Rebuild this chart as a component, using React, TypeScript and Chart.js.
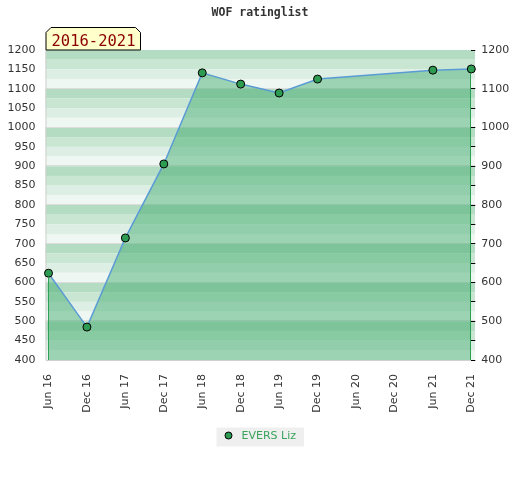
import React, { useEffect, useRef } from 'react';
import { Chart, registerables } from 'chart.js';

Chart.register(...registerables);

const TITLE = 'WOF ratinglist';
const PERIOD = '2016-2021';
const SERIES_NAME = 'EVERS Liz';
const CATEGORIES = ['Jun 16', 'Dec 16', 'Jun 17', 'Dec 17', 'Jun 18', 'Dec 18', 'Jun 19', 'Dec 19', 'Jun 20', 'Dec 20', 'Jun 21', 'Dec 21'];
const RATINGS: (number | null)[] = [624, 485, 715, 906, 1141, 1112, 1089, 1125, null, null, 1148, 1151];
const Y_MIN = 400;
const Y_MAX = 1200;
const BAND_STEP = 25;
const BAND_COLORS = ['#b3dcc2', '#c8e6d2', '#ddefe4', '#eef7f1'];

const TICK_FONT = { family: '"DejaVu Sans", sans-serif', size: 11 };
const TICK_COLOR = '#333333';
const LINE_COLOR = '#5b9bd5';
const POINT_COLOR = '#2e9b53';
const FILL_COLOR = 'rgba(63,171,108,0.47)';
const EDGE_COLOR = '#2ea055';
const LEGEND_TEXT = '#3aa35b';

const bandsPlugin = {
  id: 'bands',
  beforeDraw(chart: any) {
    const { ctx, chartArea: ca, scales } = chart;
    const y = scales.y;
    const L = ca.left - 3;
    const R = ca.right + 3.7;
    ctx.save();
    let i = 0;
    for (let v = Y_MAX; v > Y_MIN; v -= BAND_STEP, i++) {
      const top = y.getPixelForValue(v);
      const bot = y.getPixelForValue(v - BAND_STEP);
      ctx.fillStyle = BAND_COLORS[i % BAND_COLORS.length];
      ctx.fillRect(L, top, R - L, bot - top);
    }
    ctx.strokeStyle = '#dcdcdc';
    ctx.lineWidth = 1;
    for (let v = Y_MAX - 100; v > Y_MIN; v -= 100) {
      const py = Math.round(y.getPixelForValue(v)) - 0.5;
      ctx.beginPath();
      ctx.moveTo(L, py);
      ctx.lineTo(R, py);
      ctx.stroke();
    }
    ctx.strokeStyle = '#d0d0d0';
    ctx.beginPath();
    ctx.moveTo(L + 0.5, ca.top);
    ctx.lineTo(L + 0.5, ca.bottom + 0.5);
    ctx.lineTo(R, ca.bottom + 0.5);
    ctx.stroke();

    // title
    ctx.fillStyle = '#333333';
    ctx.font = 'bold 11.5px "DejaVu Sans Mono", monospace';
    ctx.textAlign = 'center';
    ctx.textBaseline = 'middle';
    ctx.fillText(TITLE, chart.width / 2, 13.5);

    // period box
    const bx = L + 0.5;
    const by = 27.5;
    const bw = 94.5;
    const bh = ca.top - by;
    const c = 5;
    ctx.beginPath();
    ctx.moveTo(bx, ca.top);
    ctx.lineTo(bx, by + c);
    ctx.lineTo(bx + c, by);
    ctx.lineTo(bx + bw - c, by);
    ctx.lineTo(bx + bw, by + c);
    ctx.lineTo(bx + bw, by + bh);
    ctx.closePath();
    ctx.fillStyle = '#ffffcc';
    ctx.fill();
    ctx.strokeStyle = '#000000';
    ctx.lineWidth = 1;
    ctx.stroke();
    ctx.fillStyle = '#8b0000';
    ctx.font = '15.5px "DejaVu Sans Mono", monospace';
    ctx.textAlign = 'left';
    ctx.textBaseline = 'alphabetic';
    ctx.fillText(PERIOD, bx + 5.5, 45.5);
    ctx.restore();
  },
  afterDatasetsDraw(chart: any) {
    const { ctx, chartArea: ca } = chart;
    const meta = chart.getDatasetMeta(0);
    const data = chart.data.datasets[0].data;
    let first = -1;
    let last = -1;
    data.forEach((v: any, i: number) => {
      if (v !== null && v !== undefined) {
        if (first < 0) first = i;
        last = i;
      }
    });
    ctx.save();
    ctx.strokeStyle = EDGE_COLOR;
    ctx.lineWidth = 1;
    [first, last].forEach((idx) => {
      const p = meta.data[idx];
      if (!p) return;
      const x = Math.round(p.x) - 0.5;
      ctx.beginPath();
      ctx.moveTo(x, p.y + 4);
      ctx.lineTo(x, ca.bottom);
      ctx.stroke();
    });
    ctx.restore();
  },
  afterDraw(chart: any) {
    const { ctx } = chart;
    ctx.save();
    ctx.font = '11px "DejaVu Sans", sans-serif';
    const tw = ctx.measureText(SERIES_NAME).width;
    const w = tw + 33;
    const h = 19;
    const x0 = Math.round(chart.width / 2 - w / 2) + 0.5;
    const y0 = 427.5;
    ctx.fillStyle = '#efefef';
    ctx.fillRect(x0, y0, w, h);
    ctx.beginPath();
    ctx.arc(x0 + 12, y0 + h / 2 - 1.5, 3.5, 0, Math.PI * 2);
    ctx.fillStyle = POINT_COLOR;
    ctx.fill();
    ctx.strokeStyle = '#000';
    ctx.lineWidth = 1;
    ctx.stroke();
    ctx.fillStyle = LEGEND_TEXT;
    ctx.textAlign = 'left';
    ctx.textBaseline = 'middle';
    ctx.fillText(SERIES_NAME, x0 + 25, y0 + h / 2 - 1);
    ctx.restore();
  },
};

export default function App() {
  const ref = useRef<HTMLCanvasElement | null>(null);
  useEffect(() => {
    document.body.style.margin = '0';
    if (!ref.current) return;
    const chart = new Chart(ref.current, {
      type: 'line',
      data: {
        labels: CATEGORIES,
        datasets: [
          {
            label: SERIES_NAME,
            data: RATINGS,
            borderColor: LINE_COLOR,
            borderWidth: 1.5,
            backgroundColor: FILL_COLOR,
            fill: 'start',
            tension: 0,
            spanGaps: true,
            pointRadius: 4,
            pointBackgroundColor: POINT_COLOR,
            pointBorderColor: '#000000',
            pointBorderWidth: 1,
            yAxisID: 'y',
          },
        ],
      },
      options: {
        responsive: false,
        animation: false,
        devicePixelRatio: 1,
        layout: { padding: { top: 50, left: 0, right: 0, bottom: 0 } },
        plugins: {
          legend: { display: false },
          title: { display: false },
          tooltip: { enabled: false },
        },
        scales: {
          x: {
            grid: { display: false },
            border: { display: false },
            ticks: {
              autoSkip: false,
              minRotation: 90,
              maxRotation: 90,
              padding: 6,
              font: TICK_FONT,
              color: TICK_COLOR,
            },
            afterFit: (s: any) => {
              s.height = 120;
            },
          },
          y: {
            position: 'left',
            min: Y_MIN,
            max: Y_MAX,
            grid: { display: false },
            border: { display: false },
            ticks: {
              stepSize: 50,
              padding: 5,
              font: TICK_FONT,
              color: TICK_COLOR,
              callback: (v: any) => String(v),
            },
            afterFit: (s: any) => {
              s.width = 48.5;
            },
          },
          y1: {
            position: 'right',
            min: Y_MIN,
            max: Y_MAX,
            grid: { drawOnChartArea: false, drawTicks: true, tickLength: 4, tickColor: '#000000', color: '#000000' },
            border: { display: false },
            ticks: {
              stepSize: 50,
              padding: 6,
              font: TICK_FONT,
              color: TICK_COLOR,
              callback: (v: any) => (Number(v) % 100 === 0 ? String(v) : ''),
            },
            afterFit: (s: any) => {
              s.width = 48.7;
            },
          },
        } as any,
      },
      plugins: [bandsPlugin],
    });
    return () => chart.destroy();
  }, []);
  return (
    <div style={{ width: 520, height: 480 }}>
      <canvas ref={ref} width={520} height={480} />
    </div>
  );
}
